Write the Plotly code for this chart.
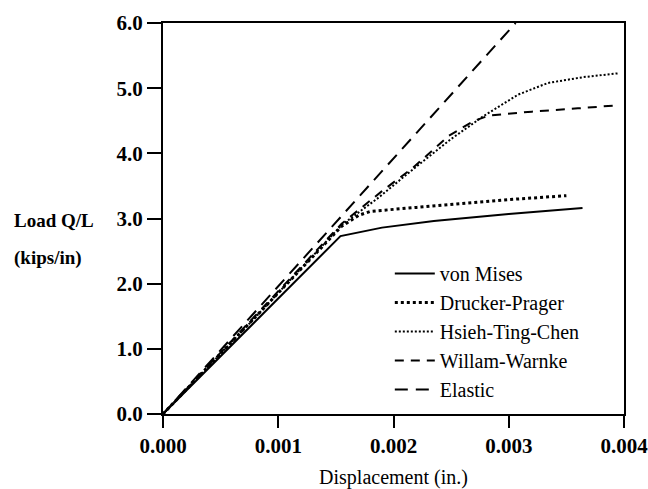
import plotly.graph_objects as go

# Load-displacement response for different yield criteria
vm_x = [0.0, 0.00154, 0.0019, 0.00235, 0.0030, 0.00364]
vm_y = [0.0, 2.73, 2.86, 2.96, 3.07, 3.16]

dp_x = [0.0, 0.0008, 0.00155, 0.0017, 0.0018, 0.0022, 0.00264, 0.0030, 0.0035]
dp_y = [0.0, 1.48, 2.88, 3.05, 3.11, 3.17, 3.24, 3.29, 3.35]

htc_x = [0.0, 0.0008, 0.00155, 0.00187, 0.0022, 0.0025, 0.00278, 0.00308, 0.00334, 0.00365, 0.00396]
htc_y = [0.0, 1.48, 2.90, 3.32, 3.80, 4.22, 4.57, 4.90, 5.08, 5.17, 5.23]

ww_x = [0.0, 0.0008, 0.00155, 0.0019, 0.00217, 0.00248, 0.0027, 0.00283, 0.0032, 0.0036, 0.00396]
ww_y = [0.0, 1.50, 2.92, 3.42, 3.78, 4.27, 4.50, 4.58, 4.64, 4.69, 4.74]

el_x = [0.0, 0.00306]
el_y = [0.0, 6.0]

x_ticks = [0.000, 0.001, 0.002, 0.003, 0.004]
y_ticks = [0.0, 1.0, 2.0, 3.0, 4.0, 5.0, 6.0]

FONT = "Liberation Serif"

series = [
    ("von Mises", vm_x, vm_y, dict(color="black", width=2, dash="solid")),
    ("Drucker-Prager", dp_x, dp_y, dict(color="black", width=3, dash="3px,3px")),
    ("Hsieh-Ting-Chen", htc_x, htc_y, dict(color="black", width=2, dash="2px,2px")),
    ("Willam-Warnke", ww_x, ww_y, dict(color="black", width=2, dash="9px,7px")),
    ("Elastic", el_x, el_y, dict(color="black", width=2, dash="13px,8px")),
]

fig = go.Figure()
for name, xs, ys, line in series:
    fig.add_trace(go.Scatter(x=xs, y=ys, mode="lines", name=name, line=line))

axis_common = dict(
    showgrid=False, zeroline=False, showline=True, linecolor="black",
    linewidth=2, mirror=True, ticks="outside", tickcolor="black",
    tickwidth=2, automargin=False, ticklabeloverflow="allow",
    tickfont=dict(family=FONT, size=21, color="black", weight="bold"),
)

fig.update_xaxes(
    range=[0, 0.004], tickvals=x_ticks, tickformat=".3f", ticklen=12,
    title=dict(text="Displacement (in.)", font=dict(family=FONT, size=20, color="black"), standoff=24),
    **axis_common,
)
fig.update_yaxes(
    range=[0, 6.0], tickvals=y_ticks, tickformat=".1f", ticklen=14,
    **axis_common,
)

fig.add_annotation(text="<b>Load Q/L</b>", xref="paper", yref="paper", x=-0.3275, y=0.496,
                   xanchor="left", yanchor="middle", showarrow=False,
                   font=dict(family=FONT, size=19, color="black"))
fig.add_annotation(text="<b>(kips/in)</b>", xref="paper", yref="paper", x=-0.3275, y=0.399,
                   xanchor="left", yanchor="middle", showarrow=False,
                   font=dict(family=FONT, size=19, color="black"))

fig.update_layout(
    width=648, height=489,
    margin=dict(l=163, r=24, t=23, b=75),
    plot_bgcolor="white", paper_bgcolor="white",
    showlegend=True,
    legend=dict(x=0.492, y=0.409, xanchor="left", yanchor="top",
                bgcolor="rgba(0,0,0,0)", itemwidth=40,
                font=dict(family=FONT, size=20, color="black")),
)

fig.write_html("out.html")
